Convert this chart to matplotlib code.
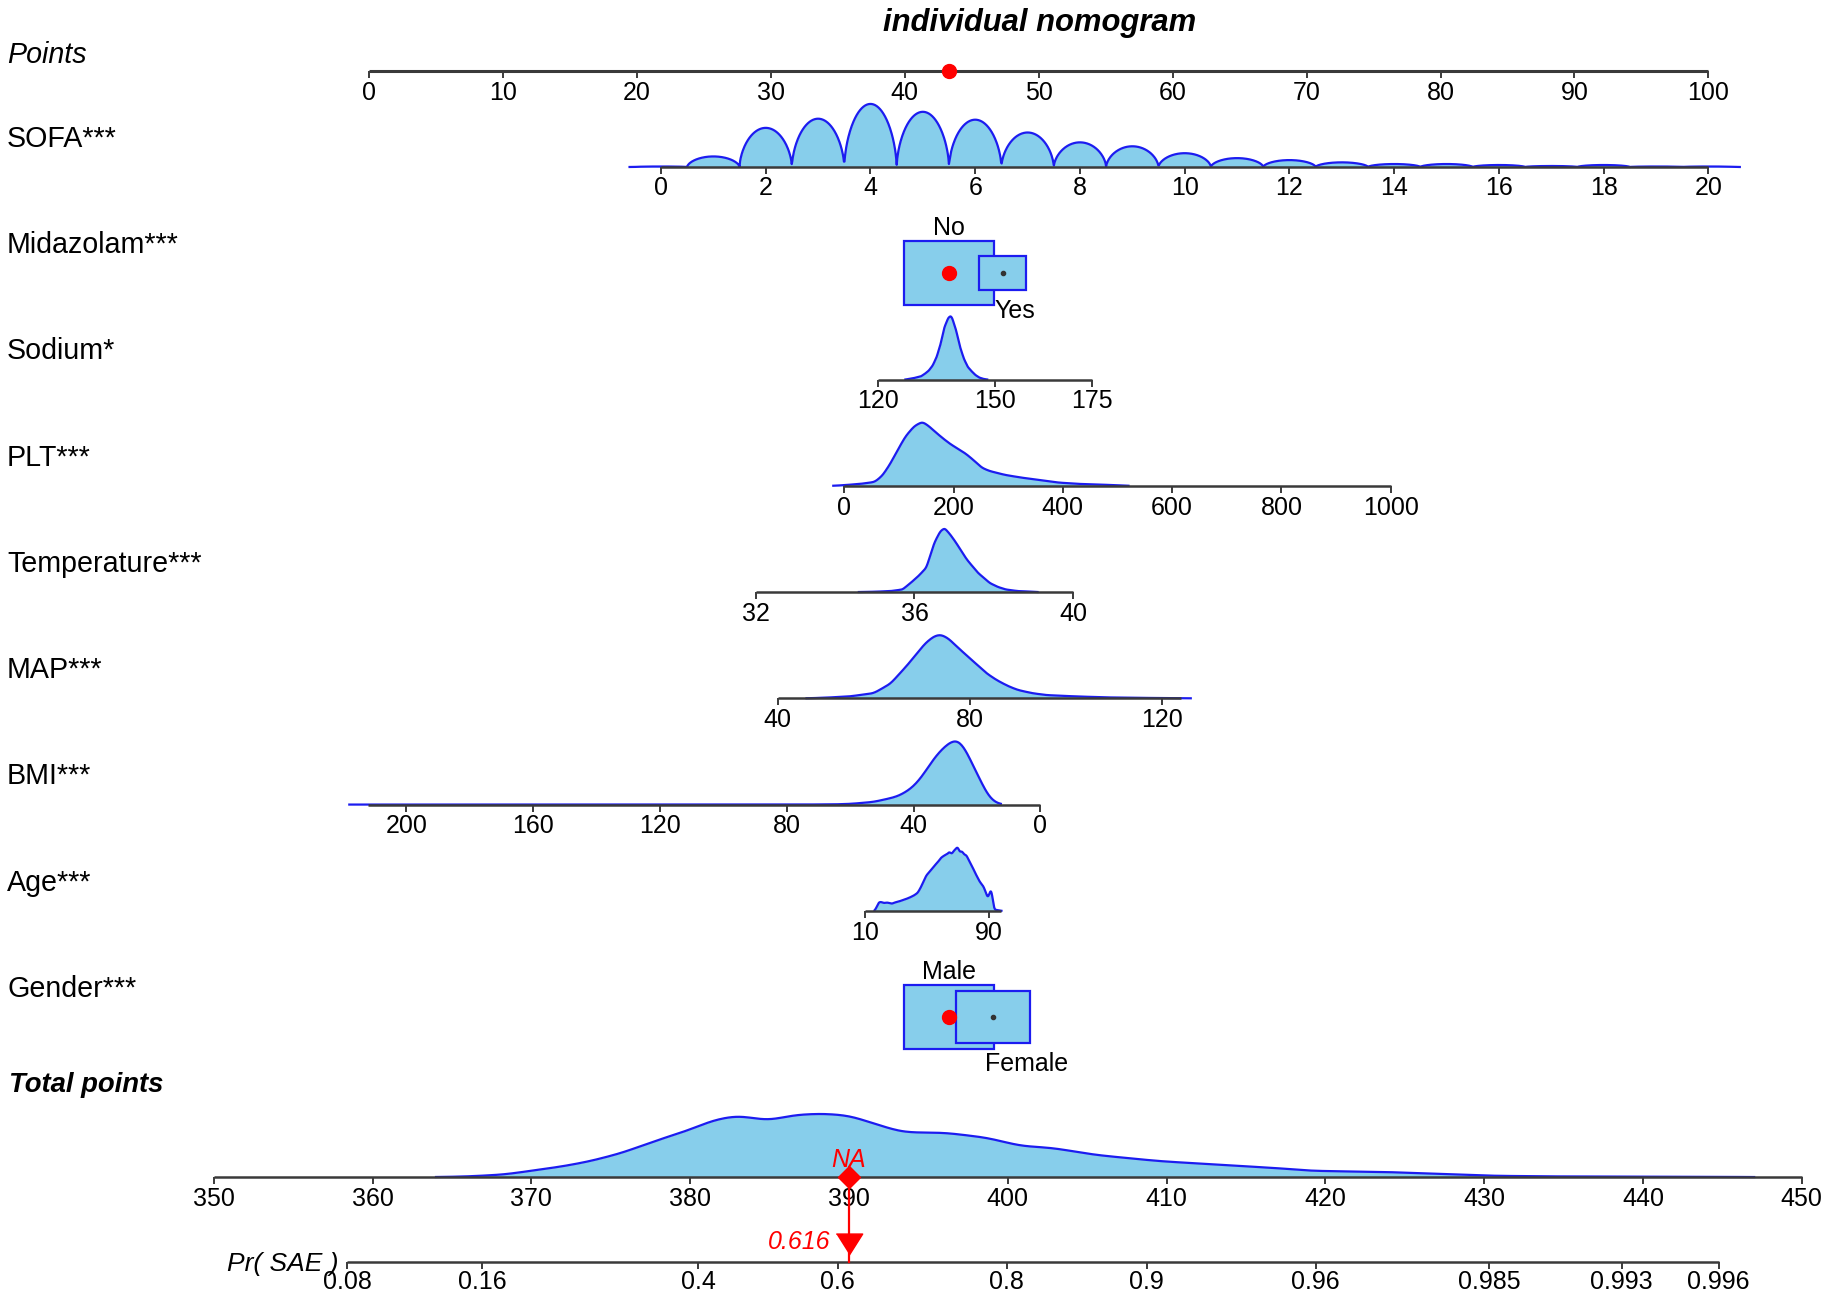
import numpy as np
import matplotlib.pyplot as plt
from matplotlib.patches import Rectangle

plt.rcParams["font.family"] = ["Liberation Sans", "DejaVu Sans"]

# ---------------- values ----------------
points_ticks = list(range(0, 101, 10))
points_marker = 43.3

# points = a + b * value for the continuous predictors
sofa_coef = (21.8, 3.91)
sodium_coef = (3.13, 0.2907)
plt_coef = (35.48, 0.04081)
temp_coef = (-65.98, 2.964)
map_coef = (16.17, 0.3586)
bmi_coef = (50.13, -0.2367)
age_coef = (35.9, 0.1155)

sofa_levels = list(range(0, 21))
sofa_freq = [0.5, 10.7, 39.7, 49, 64, 56, 48, 35, 25, 21, 14, 9, 7, 4.7,
             3, 3, 2, 1, 2, 0.5, 0.5]
sofa_ticks = list(range(0, 21, 2))

midazolam_levels = ["No", "Yes"]
midazolam_freq = [0.78, 0.22]
midazolam_points = [43.3, 47.3]

sodium_value = [127, 129, 131, 132, 133, 134, 135, 136, 137, 138, 138.6, 139,
                140, 141, 142, 143, 144, 145, 146, 147, 148]
sodium_dens = [0, 0.02, 0.05, 0.09, 0.14, 0.22, 0.35, 0.55, 0.82, 0.97, 1.0,
               0.97, 0.78, 0.52, 0.33, 0.2, 0.13, 0.07, 0.03, 0.01, 0]
sodium_ticks = [120, 150, 175]

plt_value = [-20, 0, 30, 56, 70, 84, 98, 112, 128, 143, 155, 168, 182, 196,
             210, 224, 238, 252, 266, 280, 294, 322, 357, 392, 427, 460, 490, 520]
plt_dens = [0, 0.01, 0.03, 0.06, 0.16, 0.34, 0.56, 0.77, 0.93, 1.0, 0.93, 0.83,
            0.73, 0.64, 0.57, 0.49, 0.39, 0.28, 0.23, 0.2, 0.17, 0.13, 0.09,
            0.05, 0.03, 0.02, 0.012, 0]
plt_ticks = [0, 200, 400, 600, 800, 1000]

temp_value = [34.6, 35.0, 35.4, 35.7, 35.9, 36.1, 36.3, 36.5, 36.65, 36.76,
              36.9, 37.05, 37.2, 37.33, 37.6, 37.9, 38.1, 38.3, 38.6, 38.9, 39.1]
temp_dens = [0, 0.005, 0.015, 0.04, 0.14, 0.25, 0.38, 0.77, 0.95, 1.0, 0.9,
             0.77, 0.62, 0.5, 0.3, 0.14, 0.08, 0.04, 0.015, 0.008, 0]
temp_ticks = [32, 36, 40]

map_value = [46, 50, 55, 60, 63.5, 67, 70.7, 72.5, 73.9, 75.5, 77.3, 79.5,
             81.6, 83.5, 85.7, 88, 90, 93, 96, 102, 108, 114, 120, 126]
map_dens = [0, 0.01, 0.03, 0.08, 0.23, 0.52, 0.86, 0.97, 1.0, 0.94, 0.81, 0.66,
            0.52, 0.39, 0.28, 0.19, 0.13, 0.08, 0.05, 0.03, 0.015, 0.008, 0.004, 0]
map_ticks = [40, 80, 120]

bmi_value = [218, 150, 80, 65, 60, 52.6, 45.3, 42.5, 39.9, 37, 34.4, 32, 29.9,
             28, 26.3, 24.5, 22.7, 21, 19, 17.5, 16.3, 15, 13.6, 12.5]
bmi_dens = [0, 0, 0, 0.003, 0.01, 0.04, 0.12, 0.19, 0.28, 0.45, 0.65, 0.8, 0.9,
            0.97, 1.0, 0.92, 0.75, 0.57, 0.38, 0.22, 0.12, 0.05, 0.02, 0]
bmi_ticks = [200, 160, 120, 80, 40, 0]

age_value = [16, 17.4, 18.5, 20, 22, 24, 27.3, 29, 31, 34.7, 37, 39, 41.5,
             43.9, 46, 47.5, 49.4, 52, 55, 57, 58.7, 61, 63, 64.2, 66, 67, 68,
             69.7, 71, 72.5, 74, 75.3, 77, 78.5, 80.8, 82.5, 84, 86.4, 88, 89,
             90, 90.8, 91.4, 92.3, 93.2, 98]
age_dens = [0, 0.06, 0.13, 0.14, 0.12, 0.13, 0.11, 0.13, 0.14, 0.17, 0.19,
            0.21, 0.24, 0.28, 0.37, 0.45, 0.55, 0.62, 0.71, 0.76, 0.82, 0.86,
            0.88, 0.92, 0.88, 0.93, 0.95, 1.0, 0.91, 0.93, 0.87, 0.87, 0.78,
            0.72, 0.6, 0.52, 0.45, 0.38, 0.28, 0.2, 0.24, 0.32, 0.34, 0.2, 0.02, 0]
age_ticks = [10, 90]

gender_levels = ["Male", "Female"]
gender_freq = [0.6, 0.4]
gender_points = [43.3, 46.6]

total_value = [364, 366, 368.3, 370.3, 372, 373.7, 375.7, 377.8, 379.8, 381.5,
               383, 384.9, 386.6, 388.3, 390, 392, 393.3, 394.5, 396, 398.7,
               400.8, 402.8, 405.5, 407.5, 409.6, 413.6, 417, 419, 421, 423.8,
               427.2, 430.6, 434, 440, 444.8, 447]
total_dens = [0, 0.01, 0.04, 0.11, 0.17, 0.25, 0.38, 0.57, 0.73, 0.9, 0.97,
              0.89, 0.98, 1.0, 0.97, 0.81, 0.71, 0.7, 0.7, 0.62, 0.49, 0.46,
              0.35, 0.3, 0.25, 0.19, 0.14, 0.1, 0.09, 0.08, 0.05, 0.02, 0.011,
              0.006, 0.004, 0]
total_ticks = list(range(350, 451, 10))
total_obs = 390

# total points = c0 + c1 * logit(p)
pr_coef = (384.9, 10.85)
pr_ticks = [0.08, 0.16, 0.4, 0.6, 0.8, 0.9, 0.96, 0.985, 0.993, 0.996]
pr_obs = 0.616

# ---------------- layout ----------------
W, H = 1568, 1568 * 1298 / 1831          # layout units
X0, PPX = 316, 11.47                      # where points 0 sits, px per point
FILL, EDGE, AXC = "#87CEEB", "#1c1cf0", "#3a3a3a"
TICK_FS, LAB_FS = 18, 20.6
DENS_H = 54

fig = plt.figure(figsize=(18.31, 12.98), dpi=100)
ax = fig.add_axes([0, 0, 1, 1])
ax.set_xlim(-X0 / PPX, (W - X0) / PPX)
ax.set_ylim(H, 0)
ax.axis("off")


def px(x):
    return (x - X0) / PPX


def lin(coef):
    return lambda v: coef[0] + coef[1] * np.asarray(v, float)


def tp_x(tp):
    # total points axis has its own spacing
    return px(183) + (np.asarray(tp, float) - 350) * (1543 - 183) / 100 / PPX


def text(x, yc, s, fs, **kw):
    ax.text(x, yc + 0.426 * fs, s, fontsize=fs, va="baseline", **kw)


def scale(y, xlo, xhi, tick_x, labels, lab_dy=17, lw=1.8):
    ax.plot([xlo, xhi], [y, y], color=AXC, lw=lw, solid_capstyle="butt", zorder=4)
    ax.vlines(tick_x, y, y + 6, color=AXC, lw=1.4, zorder=4)
    for x, s in zip(tick_x, labels):
        text(x, y + lab_dy, s, TICK_FS, ha="center")


def smooth(xs, dens, n=700, sigma=5):
    # resample the read-off curve and round off its corners
    xs = np.asarray(xs, float)
    order = np.argsort(xs)
    g = np.linspace(xs.min(), xs.max(), n)
    v = np.interp(g, xs[order], np.asarray(dens, float)[order])
    k = np.exp(-0.5 * (np.arange(-3 * sigma, 3 * sigma + 1) / sigma) ** 2)
    v = np.convolve(np.pad(v, 3 * sigma, mode="edge"), k / k.sum(), mode="valid")
    return g, v


def density(y, xs, dens, sm=True):
    if sm:
        xs, dens = smooth(xs, dens)
    d = np.asarray(dens, float) / max(dens)
    top = y - d * DENS_H
    ax.fill_between(xs, y, top, color=FILL, lw=0, zorder=2)
    ax.plot(xs, top, color=EDGE, lw=1.6, zorder=3)


def boxes(y, pts, freq, levels):
    fmax = max(freq)
    bw, bh = 77 / PPX, 55
    for i, (p, f) in enumerate(zip(pts, freq)):
        s = np.sqrt(f / fmax)
        w, h = bw * s, bh * s
        ax.add_patch(Rectangle((p - w / 2, y - h / 2), w, h, facecolor=FILL,
                               edgecolor=EDGE, lw=1.6, zorder=3 + i))
        if i == 0:
            ax.plot(p, y, "o", color="red", ms=10, zorder=6)
            text(p, y - h / 2 - 12.5, levels[i], TICK_FS, ha="center")
        else:
            ax.plot(p, y, "o", color="#333333", ms=3, zorder=6)
            text(p - 0.6, y + h / 2 + 16, levels[i], TICK_FS, ha="left")


# title and Points axis
text(px(890), 17, "individual nomogram", 22.3, ha="center",
     fontweight="bold", fontstyle="italic")
text(px(6), 45, "Points", LAB_FS, fontstyle="italic")
scale(61, 0, 100, points_ticks, [str(t) for t in points_ticks], lw=2.2)
ax.plot(points_marker, 61, "o", color="red", ms=10, zorder=6)

row_y = [143 + 91 * i for i in range(9)]
names = ["SOFA***", "Midazolam***", "Sodium*", "PLT***", "Temperature***",
         "MAP***", "BMI***", "Age***", "Gender***"]
for y, n in zip(row_y, names):
    text(px(6), y - 26, n, LAB_FS)

# SOFA: one arch per level
f = lin(sofa_coef)
grid = np.linspace(-0.6, 20.6, 2000)
k = np.clip(np.round(grid).astype(int), 0, 20)
d = grid - np.round(grid)
fr = np.asarray(sofa_freq, float)
arch = np.where((grid >= -0.5) & (grid <= 20.5),
                fr[k] * np.clip(1 - (2 * d) ** 2, 0, 1) ** 0.6, 0)
density(row_y[0], f(grid), arch, sm=False)
scale(row_y[0], f(0), f(20), f(sofa_ticks), [str(t) for t in sofa_ticks], lab_dy=16)

boxes(row_y[1], midazolam_points, midazolam_freq, midazolam_levels)

f = lin(sodium_coef)
density(row_y[2], f(sodium_value), sodium_dens)
scale(row_y[2], f(120), f(175), f(sodium_ticks), [str(t) for t in sodium_ticks])

f = lin(plt_coef)
density(row_y[3], f(plt_value), plt_dens)
scale(row_y[3], f(0), f(1000), f(plt_ticks), [str(t) for t in plt_ticks])

f = lin(temp_coef)
density(row_y[4], f(temp_value), temp_dens)
scale(row_y[4], f(32), f(40), f(temp_ticks), [str(t) for t in temp_ticks])

f = lin(map_coef)
density(row_y[5], f(map_value), map_dens)
scale(row_y[5], f(40), f(124), f(map_ticks), [str(t) for t in map_ticks])

f = lin(bmi_coef)
density(row_y[6], f(bmi_value), bmi_dens)
scale(row_y[6], f(212), f(0), f(bmi_ticks), [str(t) for t in bmi_ticks])

f = lin(age_coef)
density(row_y[7], f(age_value), age_dens)
scale(row_y[7], f(10), f(98), f(age_ticks), [str(t) for t in age_ticks])

boxes(row_y[8], gender_points, gender_freq, gender_levels)

# total points
ty, py = 1008, 1081
text(px(8), 927, "Total points", 19.8, fontweight="bold", fontstyle="italic")
density(ty, tp_x(total_value), total_dens)
scale(ty, tp_x(350), tp_x(450), tp_x(total_ticks), [str(t) for t in total_ticks])


def pr_x(p):
    p = np.asarray(p, float)
    return tp_x(pr_coef[0] + pr_coef[1] * np.log(p / (1 - p)))


scale(py, pr_x(pr_ticks[0]), pr_x(pr_ticks[-1]), pr_x(pr_ticks),
      [str(t) for t in pr_ticks], lab_dy=15)
text(px(290), py - 1, "Pr( SAE )", 19, ha="right", fontstyle="italic")

# observation
xo = tp_x(total_obs)
ax.plot([xo, xo], [ty, py], color="red", lw=1.6, zorder=7)
ax.plot(xo, ty, "D", color="red", ms=11, zorder=8)
ax.plot(pr_x(pr_obs), 1065, marker=[(-1.2, 0.95), (1.2, 0.95), (0, -0.95)],
        color="red", ms=19, zorder=8)
text(xo, 992, "NA", 18, ha="center", color="red", fontstyle="italic")
text(pr_x(pr_obs) - 16 / PPX, 1062, f"{pr_obs:.3f}", 18, ha="right",
     color="red", fontstyle="italic")

fig.savefig("out.png", dpi=100)
